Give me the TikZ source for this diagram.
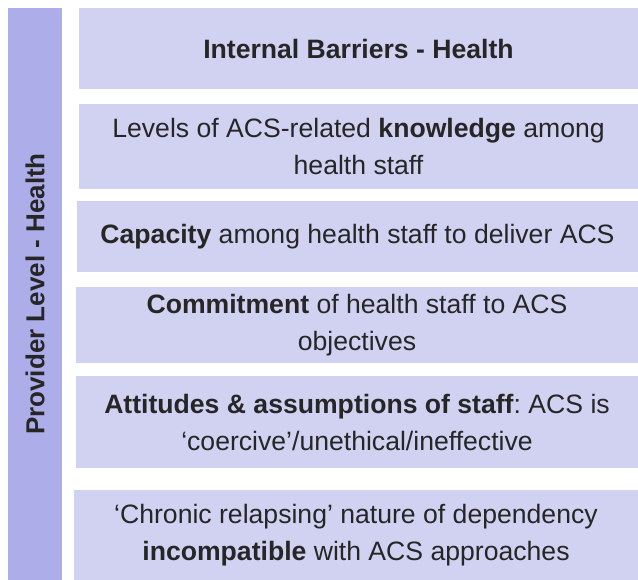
\documentclass[tikz,border=0pt]{standalone}
\usepackage{fontspec}
\setmainfont{Liberation Sans}
\usepackage{tikz}
\frenchspacing
\definecolor{barfill}{RGB}{173,173,234}
\definecolor{boxfill}{RGB}{209,209,242}
\definecolor{textgrey}{RGB}{38,38,38}
\tikzset{barrier/.style={rectangle,fill=boxfill,anchor=north west,inner sep=0pt,outer sep=0pt,
    align=center,text=textgrey,font=\fontsize{26.6}{37}\selectfont}}
\newcommand{\barrierbox}[5]{\node[barrier,minimum width=#3,minimum height=#4] at (#1) (#2) {#5}}

\begin{document}
\begin{tikzpicture}[x=1pt,y=-1pt]
        \useasboundingbox (0,0) rectangle (638,580);
        \node[rectangle,fill=barfill,rotate=90,minimum width=572,minimum height=54,inner sep=0pt,
            text=textgrey,font=\fontsize{26}{37}\selectfont\bfseries] at (35,294) (provider) {Provider Level - Health};
        \barrierbox{79,8}{title}{559}{81}{\textbf{Internal Barriers - Health}};
        \barrierbox{79,104}{knowledge}{559}{85}{Levels of ACS-related \textbf{knowledge} among\\health staff};
        \barrierbox{77,201}{capacity}{561}{71}{\textbf{Capacity} among health staff to deliver ACS};
        \barrierbox{76,287}{commitment}{562}{76}{\textbf{Commitment} of health staff to ACS\\objectives};
        \barrierbox{76,376}{attitudes}{562}{92}{\textbf{Attitudes \& assumptions of staff}: ACS is\\‘coercive’/unethical/ineffective};
        \barrierbox{74,490}{relapsing}{564}{90}{‘Chronic relapsing’ nature of dependency\\\textbf{incompatible} with ACS approaches};
    \end{tikzpicture}
\end{document}
